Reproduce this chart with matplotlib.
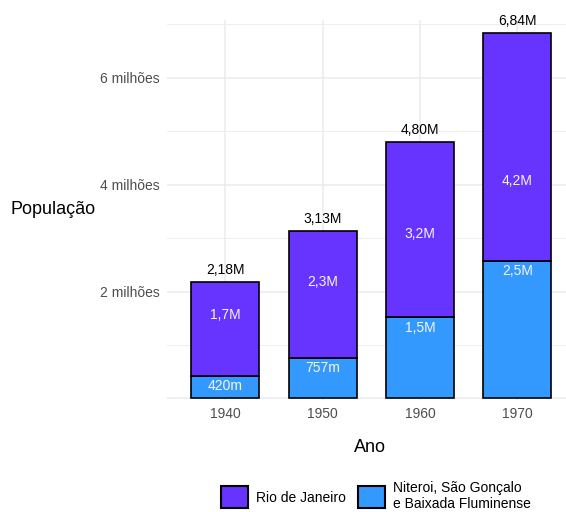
import numpy as np
import matplotlib.pyplot as plt
from matplotlib.patches import Patch

plt.rcParams['font.family'] = ['Liberation Sans', 'DejaVu Sans']

anos = ["1940", "1950", "1960", "1970"]
niteroi = [0.420, 0.757, 1.52, 2.58]   # milhões
rio = [1.76, 2.37, 3.28, 4.26]          # milhões
y_ticks = [2, 4, 6]
y_labels = ["2 milhões", "4 milhões", "6 milhões"]

cor_rio = "#6633FF"
cor_nit = "#3399FF"


def fmt_parte(v):
    # valores abaixo de 1 milhão em milhares, senão milhões truncados
    if v < 1:
        return f"{int(round(v * 1000))}m"
    return f"{np.floor(v * 10 + 1e-9) / 10:.1f}M".replace(".", ",")


def fmt_total(v):
    return f"{v:.2f}M".replace(".", ",")


W, H = 566, 512
fig = plt.figure(figsize=(W / 100, H / 100), dpi=100)
left, right, top, bottom = 167, 566, 20, 400
ax = fig.add_axes([left / W, 1 - bottom / H, (right - left) / W, (bottom - top) / H])

x = np.arange(len(anos))
nit = np.array(niteroi)
ri = np.array(rio)
total = nit + ri

ax.bar(x, nit, width=0.7, color=cor_nit, edgecolor="black", linewidth=1.2, zorder=3)
ax.bar(x, ri, bottom=nit, width=0.7, color=cor_rio, edgecolor="black", linewidth=1.2, zorder=3)

for i in range(len(anos)):
    ax.annotate(fmt_parte(nit[i]), (x[i], nit[i]), xytext=(0, -7.5), textcoords="offset points",
                ha="center", va="center", color="#F5F5F5", fontsize=10, zorder=4)
    ax.annotate(fmt_parte(ri[i]), (x[i], ri[i]), xytext=(0, -7.5), textcoords="offset points",
                ha="center", va="center", color="#F5F5F5", fontsize=10, zorder=4)
    ax.annotate(fmt_total(total[i]), (x[i], total[i]), xytext=(0, 8.5), textcoords="offset points",
                ha="center", va="center", color="black", fontsize=10, zorder=4)

ax.set_xlim(-0.6, 3.5)
ax.set_ylim(-0.03, 7.08)
ax.set_xticks(x)
ax.set_xticklabels(anos)
ax.set_yticks([0] + y_ticks)
ax.set_yticklabels([""] + y_labels)
ax.set_yticks([1, 3, 5, 7], minor=True)
ax.tick_params(axis="both", which="both", length=0, labelsize=10, labelcolor="#4D4D4D")
ax.tick_params(axis="y", pad=5)
ax.tick_params(axis="x", pad=5)
ax.grid(True, which="major", color="#EBEBEB", linewidth=1.1, zorder=0)
ax.grid(True, which="minor", axis="y", color="#EBEBEB", linewidth=0.6, zorder=0)
for s in ax.spines.values():
    s.set_visible(False)

fig.text(10 / W, 1 - 210 / H, "População", ha="left", va="center", fontsize=13)
fig.text(370 / W, 1 - 448 / H, "Ano", ha="center", va="center", fontsize=13)

handles = [Patch(facecolor=cor_rio, edgecolor="black", linewidth=1.5, label="Rio de Janeiro"),
           Patch(facecolor=cor_nit, edgecolor="black", linewidth=1.5,
                 label="Niteroi, São Gonçalo\ne Baixada Fluminense")]
fig.legend(handles=handles, loc="center", bbox_to_anchor=(376 / W, 1 - 496 / H), ncol=2,
           frameon=False, fontsize=10, handlelength=1.9, handleheight=2.0,
           handletextpad=0.6, columnspacing=0.9, labelspacing=0.2)

fig.savefig("out.png", dpi=100)
